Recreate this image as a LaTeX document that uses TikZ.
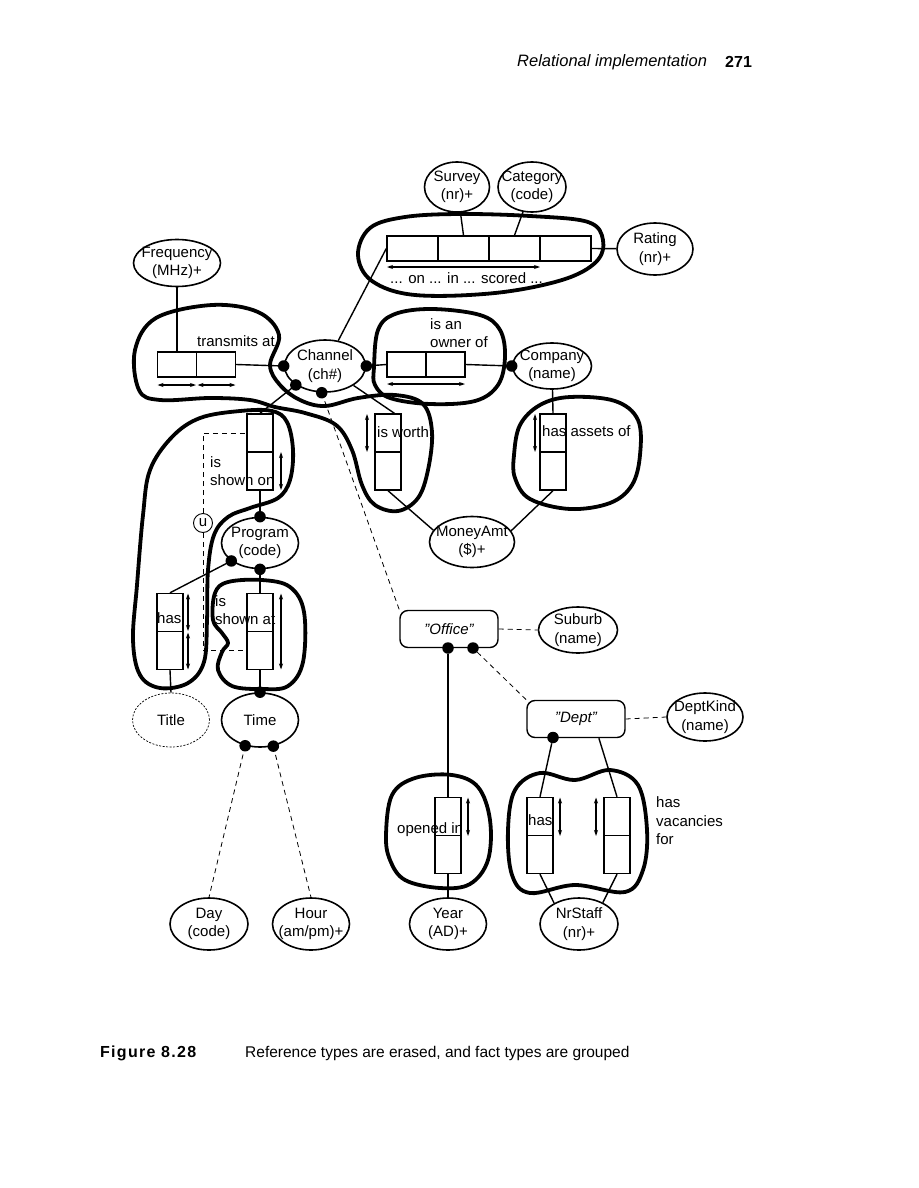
\documentclass[tikz,border=0pt]{standalone}
\usepackage{fontspec}
\setmainfont{Liberation Sans}
\usetikzlibrary{shapes.geometric,arrows.meta}
\begin{document}
\begin{tikzpicture}[x=1pt,y=-1pt,
  font=\fontsize{15}{18.5}\selectfont,
  ent/.style={ellipse,draw,line width=1.6pt,inner sep=0pt},
  vrole/.style={draw,line width=1.4pt,minimum width=26pt,minimum height=38pt,inner sep=0pt},
  hrole/.style={draw,line width=1.4pt,minimum height=25pt,inner sep=0pt},
  txt/.style={inner sep=0pt,align=center},
  lab/.style={inner sep=0pt,align=left,anchor=west},
  dot/.style={circle,fill,inner sep=0pt,minimum size=11.5pt},
  link/.style={line width=1.4pt},
  refl/.style={line width=0.8pt,dash pattern=on 5pt off 4pt},
  grp/.style={line width=3.8pt,line join=round},
  uniq/.style={line width=1.1pt,{Stealth[length=6pt,width=4pt]}-{Stealth[length=6pt,width=4pt]}},
  obj/.style={draw,rounded corners=8pt,line width=1.4pt,inner sep=0pt,minimum width=98pt,minimum height=37pt}
]
\useasboundingbox (0,0) rectangle (918,1188);

% running head
\node[lab,font=\itshape\fontsize{16.5}{19}\selectfont] (headA) at (517,62) {Relational implementation};
\node[lab,font=\bfseries\fontsize{16}{19}\selectfont] (headB) at (725,62) {271};

% ---------- entity types ----------
\node[ent,minimum width=65pt,minimum height=50pt] (surv) at (457,187) {};
\node[txt] (survT) at (surv) {Survey\\(nr)+};
\node[ent,minimum width=68pt,minimum height=50pt] (cat) at (532,187) {};
\node[txt] (catT) at (cat) {Category\\(code)};
\node[ent,minimum width=76pt,minimum height=52pt] (rat) at (655,249) {};
\node[txt] (ratT) at (rat) {Rating\\(nr)+};
\node[ent,minimum width=87pt,minimum height=47pt] (freq) at (177,263) {};
\node[txt] (freqT) at (freq) {Frequency\\(MHz)+};
\node[ent,minimum width=81pt,minimum height=52pt] (chan) at (325,366) {};
\node[txt] (chanT) at (chan) {Channel\\(ch\#)};
\node[ent,minimum width=79pt,minimum height=46pt] (comp) at (552,366) {};
\node[txt] (compT) at (comp) {Company\\(name)};
\node[ent,minimum width=85pt,minimum height=51pt] (money) at (472,542) {};
\node[txt] (moneyT) at (money) {MoneyAmt\\(\$)+};
\node[ent,minimum width=77pt,minimum height=51pt] (prog) at (260,543) {};
\node[txt] (progT) at (prog) {Program\\(code)};
\node[ent,minimum width=77pt,minimum height=54pt,line width=0.7pt,dash pattern=on 2pt off 1.5pt] (title) at (171,720) {};
\node[txt] (titleT) at (title) {Title};
\node[ent,minimum width=77pt,minimum height=54pt] (time) at (260,720) {};
\node[txt] (timeT) at (time) {Time};
\node[ent,minimum width=78pt,minimum height=52pt] (day) at (209,924) {};
\node[txt] (dayT) at (day) {Day\\(code)};
\node[ent,minimum width=77pt,minimum height=52pt] (hour) at (311,924) {};
\node[txt] (hourT) at (hour) {Hour\\(am/pm)+};
\node[ent,minimum width=77pt,minimum height=52pt] (year) at (448,924) {};
\node[txt] (yearT) at (year) {Year\\(AD)+};
\node[ent,minimum width=78pt,minimum height=52pt] (nrst) at (579,924) {};
\node[txt] (nrstT) at (nrst) {NrStaff\\(nr)+};
\node[ent,minimum width=79pt,minimum height=46pt] (suburb) at (578,630) {};
\node[txt] (suburbT) at (suburb) {Suburb\\(name)};
\node[ent,minimum width=76pt,minimum height=48pt] (dkind) at (705,717) {};
\node[txt] (dkindT) at (dkind) {DeptKind\\(name)};

% objectified / nested object boxes
\node[obj] (office) at (449,629) {\itshape "Office"};
\node[obj] (dept) at (576,719) {\itshape "Dept"};

% ---------- fact type role boxes ----------
\node[hrole,minimum width=51pt] (q1) at (412.5,248.5) {};
\node[hrole,minimum width=51pt] (q2) at (463.5,248.5) {};
\node[hrole,minimum width=51pt] (q3) at (514.5,248.5) {};
\node[hrole,minimum width=51pt] (q4) at (565.5,248.5) {};

\node[hrole,minimum width=39pt] (t1) at (177,364.5) {};
\node[hrole,minimum width=39pt] (t2) at (216,364.5) {};

\node[hrole,minimum width=39pt] (o1) at (406.5,364.5) {};
\node[hrole,minimum width=39pt] (o2) at (445.5,364.5) {};

\node[vrole] (s1) at (260,433) {};
\node[vrole] (s2) at (260,471) {};
\node[vrole] (w1) at (388,433) {};
\node[vrole] (w2) at (388,471) {};
\node[vrole] (a1) at (553,433) {};
\node[vrole] (a2) at (553,471) {};
\node[vrole] (h1) at (170,612.5) {};
\node[vrole] (h2) at (170,650.5) {};
\node[vrole] (sa1) at (260,612.5) {};
\node[vrole] (sa2) at (260,650.5) {};
\node[vrole] (op1) at (448,816.5) {};
\node[vrole] (op2) at (448,854.5) {};
\node[vrole] (dh1) at (540,816.5) {};
\node[vrole] (dh2) at (540,854.5) {};
\node[vrole] (v1) at (617,816.5) {};
\node[vrole] (v2) at (617,854.5) {};

% ---------- uniqueness arrows ----------
\draw[uniq] (387,267) -- (540,267);
\draw[uniq] (157.5,385) -- (196,385);
\draw[uniq] (197.5,385) -- (235.5,385);
\draw[uniq] (387,384) -- (465,384);
\draw[uniq] (281,452) -- (281,490);
\draw[uniq] (367,414) -- (367,452);
\draw[uniq] (535,414) -- (535,452);
\draw[uniq] (188,593.5) -- (188,631);
\draw[uniq] (188,632.5) -- (188,669.5);
\draw[uniq] (281,593.5) -- (281,669.5);
\draw[uniq] (468,797.5) -- (468,836);
\draw[uniq] (560,797.5) -- (560,836);
\draw[uniq] (596,797.5) -- (596,836);

% ---------- role connectors ----------
\draw[link] (surv) -- (q2.north);
\draw[link] (cat) -- (q3.north);
\draw[link] (q4.east) -- (rat);
\draw[link] (chan) -- (q1.west);
\draw[link] (freq) -- (t1.north);
\draw[link] (t2.east) -- (chan.180);
\draw[link] (chan.0) -- (o1.west);
\draw[link] (o2.east) -- (comp.180);
\draw[link] (chan.213) -- (s1.north);
\draw[link] (chan) -- (w1.72);
\draw[link] (w2.south) -- (money.163);
\draw[link] (comp) -- (a1.north);
\draw[link] (a2.south) -- (money.16);
\draw[link] (s2.south) -- (prog.north);
\draw[link] (prog.212) -- (h1.north);
\draw[link] (prog.south) -- (sa1.north);
\draw[link] (sa2.south) -- (time.north);
\draw[link] (h2.south) -- (title.north);
\node[dot] (od1) at (448,648) {};
\node[dot] (od2) at (473,648) {};
\node[dot] (dd1) at (553,737.5) {};
\draw[link] (od1) -- (op1.north);
\draw[link] (op2.south) -- (year.north);
\draw[link] (dd1) -- (dh1.north);
\draw[link] (dept.-40) -- (v1.north);
\draw[link] (dh2.south) -- (nrst.140);
\draw[link] (v2.south) -- (nrst.42);

% ---------- reference (dashed) links ----------
\draw[refl] (chan.263) -- (office.north west);
\draw[refl] (time.240) -- (day.north);
\draw[refl] (time.297) -- (hour.north);
\draw[refl] (od2) -- (dept.north west);
\draw[refl] (office.east) -- (suburb.west);
\draw[refl] (dept.east) -- (dkind.west);

% subset constraint
\node[circle,draw,line width=0.9pt,minimum size=19pt,inner sep=0pt] (ucon) at (203,523) {u};
\draw[refl] (ucon.north) |- (s1.west);
\draw[refl] (ucon.south) |- (sa2.west);

% ---------- role dots ----------
\node[dot] (cd1) at (chan.180) {};
\node[dot] (cd2) at (chan.0) {};
\node[dot] (cd3) at (chan.213) {};
\node[dot] (cd4) at (chan.263) {};
\node[dot] (cpd) at (comp.180) {};
\node[dot] (pd1) at (prog.north) {};
\node[dot] (pd2) at (prog.212) {};
\node[dot] (pd3) at (prog.south) {};
\node[dot] (td0) at (time.north) {};
\node[dot] (td1) at (time.240) {};
\node[dot] (td2) at (time.297) {};

% ---------- fact type readings ----------
\node[lab] (qlab) at (390,278) {... on ... in ... scored ...};
\node[lab] (tlab) at (197,341) {transmits at};
\node[lab] (olab) at (430,333) {is an\\owner of};
\node[lab] (wlab) at (377,432) {is worth};
\node[lab] (alab) at (542,431) {has assets of};
\node[lab] (slab) at (210,471) {is\\shown on};
\node[lab] (salab) at (215,610) {is\\shown at};
\node[lab] (hlab) at (157,618) {has};
\node[lab] (oplab) at (397,830) {opened in};
\node[lab] (dhlab) at (528,820) {has};
\node[lab] (vlab) at (656,821) {has\\vacancies\\for};

% ---------- table groupings ----------
\draw[grp] plot[smooth cycle,tension=0.6] coordinates {
  (358,255) (370,228) (405,217) (460,214) (530,216) (588,222) (603,240)
  (596,262) (562,280) (495,293) (415,295) (372,281)};
\draw[grp] plot[smooth cycle,tension=0.6] coordinates {
  (135,350) (156,318) (212,305) (258,312) (279,335) (270,365) (280,385)
  (300,400) (325,406) (358,398) (395,395) (423,404) (432,432) (428,470)
  (418,498) (398,511) (375,505) (362,485) (352,450) (336,425) (305,413)
  (275,407) (250,400) (210,398) (160,400) (139,390)};
\draw[grp] plot[smooth cycle,tension=0.6] coordinates {
  (374,367) (378,330) (395,314) (432,309) (480,315) (500,330) (505,357)
  (498,385) (475,401) (430,404) (390,398) (375,385)};
\draw[grp] plot[smooth cycle,tension=0.6] coordinates {
  (514,455) (520,425) (540,405) (570,397) (615,401) (638,420) (640,455)
  (632,485) (610,503) (570,509) (530,499) (515,478)};
\draw[grp] plot[smooth cycle,tension=0.6] coordinates {
  (143,515) (150,470) (172,437) (200,418) (240,411) (272,411) (287,422)
  (293,450) (290,480) (278,498) (250,508) (228,517) (214,535) (208,570)
  (207,620) (204,662) (188,683) (160,688) (140,675) (133,640) (137,585)};
\draw[grp] plot[smooth cycle,tension=0.6] coordinates {
  (215,593) (228,582) (262,580) (290,587) (304,612) (303,662) (288,686)
  (262,689) (232,686) (218,670) (222,652) (228,643) (222,633) (213,620)};
\draw[grp] plot[smooth cycle,tension=0.6] coordinates {
  (386,835) (392,795) (415,778) (452,775) (478,787) (490,820) (488,860)
  (470,884) (440,888) (405,880) (390,860)};
\draw[grp] plot[smooth cycle,tension=0.6] coordinates {
  (508,830) (515,790) (540,773) (575,780) (610,770) (638,785) (647,830)
  (643,870) (625,892) (575,885) (530,893) (512,875)};

% caption
\node[lab,font=\bfseries\fontsize{16}{19}\selectfont\addfontfeature{LetterSpace=8}] (capA) at (100,1053) {Figure 8.28};
\node[lab,font=\fontsize{15.5}{19}\selectfont] (capB) at (245,1053) {Reference types are erased, and fact types are grouped};
\end{tikzpicture}
\end{document}
